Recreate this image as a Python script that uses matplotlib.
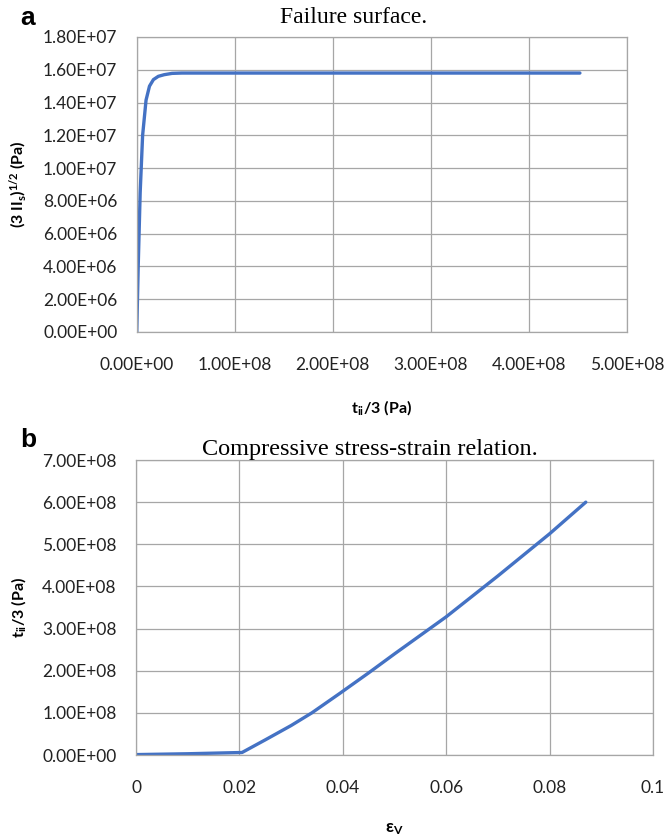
import matplotlib
matplotlib.use('Agg')
import matplotlib.pyplot as plt
from matplotlib.ticker import FuncFormatter, MultipleLocator

# Panel a: failure surface
mean_stress_a = [0, 1.5e6, 3.5e6, 6e6, 9.5e6, 1.3e7, 1.7e7, 2.2e7, 2.8e7, 3.6e7, 4.6e7, 4.52e8]
eq_stress_a = [0, 4e6, 8.5e6, 1.2e7, 1.415e7, 1.5e7, 1.54e7, 1.56e7, 1.57e7, 1.578e7, 1.58e7, 1.58e7]

# Panel b: compressive stress-strain relation
strain_b = [0, 0.01, 0.0205, 0.025, 0.03, 0.034, 0.0395, 0.045, 0.05, 0.06, 0.07, 0.08, 0.087]
mean_stress_b = [1e6, 3e6, 6e6, 3.6e7, 7e7, 1.0e8, 1.47e8, 1.95e8, 2.4e8, 3.28e8, 4.25e8, 5.25e8, 6.0e8]

plt.rcParams['font.family'] = 'Lato'
plt.rcParams['mathtext.fontset'] = 'custom'
plt.rcParams['mathtext.rm'] = 'Lato'
plt.rcParams['mathtext.bf'] = 'Lato:bold'
plt.rcParams['mathtext.it'] = 'Lato:italic'

line_color = '#4472C4'
grid_color = '#a6a6a6'

fig = plt.figure(figsize=(6.67, 8.39), dpi=100)
ax_a = fig.add_axes([0.205, 0.6043, 0.735, 0.3516])
ax_b = fig.add_axes([0.204, 0.1001, 0.775, 0.3516])

for ax in (ax_a, ax_b):
    for sp in ax.spines.values():
        sp.set_color(grid_color)
        sp.set_linewidth(0.9)
    ax.grid(True, color=grid_color, linewidth=0.9)
    ax.set_axisbelow(True)
    ax.tick_params(length=0, labelsize=12.5, colors='#222222')
    ax.tick_params(axis='y', pad=14)
    ax.tick_params(axis='x', pad=18)

sci = FuncFormatter(lambda v, p: f'{v:.2E}')

# --- panel a ---
ax_a.plot(mean_stress_a, eq_stress_a, color=line_color, linewidth=2.4, solid_capstyle='round')
ax_a.set_xlim(0, 5e8)
ax_a.set_ylim(0, 1.8e7)
ax_a.xaxis.set_major_locator(MultipleLocator(1e8))
ax_a.yaxis.set_major_locator(MultipleLocator(2e6))
ax_a.xaxis.set_major_formatter(sci)
ax_a.yaxis.set_major_formatter(sci)
ax_a.set_title('Failure surface.', family='Liberation Serif', fontsize=17, pad=10, x=0.443)
ax_a.set_xlabel(r'$\mathbf{t_{ii}}$/3 (Pa)', fontsize=11.5, fontweight='bold', labelpad=18)
ax_a.set_ylabel(r'(3 II$_\mathbf{s}$)$^\mathbf{1/2}$ (Pa)', fontsize=11.5, fontweight='bold', labelpad=10)

# --- panel b ---
ax_b.plot(strain_b, mean_stress_b, color=line_color, linewidth=2.4, solid_capstyle='round')
ax_b.set_xlim(0, 0.1)
ax_b.set_ylim(0, 7e8)
ax_b.xaxis.set_major_locator(MultipleLocator(0.02))
ax_b.yaxis.set_major_locator(MultipleLocator(1e8))
ax_b.xaxis.set_major_formatter(FuncFormatter(lambda v, p: f'{v:g}'))
ax_b.yaxis.set_major_formatter(sci)
ax_b.set_title('Compressive stress-strain relation.', family='Liberation Serif', fontsize=17.5,
               pad=-2, x=0.453)
ax_b.set_xlabel(r'$\mathbf{\varepsilon_V}$', fontsize=12.5, fontweight='bold', labelpad=18)
ax_b.set_ylabel(r'$\mathbf{t_{ii}}$/3 (Pa)', fontsize=11.5, fontweight='bold', labelpad=10)

fig.text(0.03, 0.978, 'a', fontsize=19, fontweight='bold', family='Liberation Sans', va='center')
fig.text(0.03, 0.475, 'b', fontsize=19, fontweight='bold', family='Liberation Sans', va='center')

fig.savefig('out.png', dpi=100)
